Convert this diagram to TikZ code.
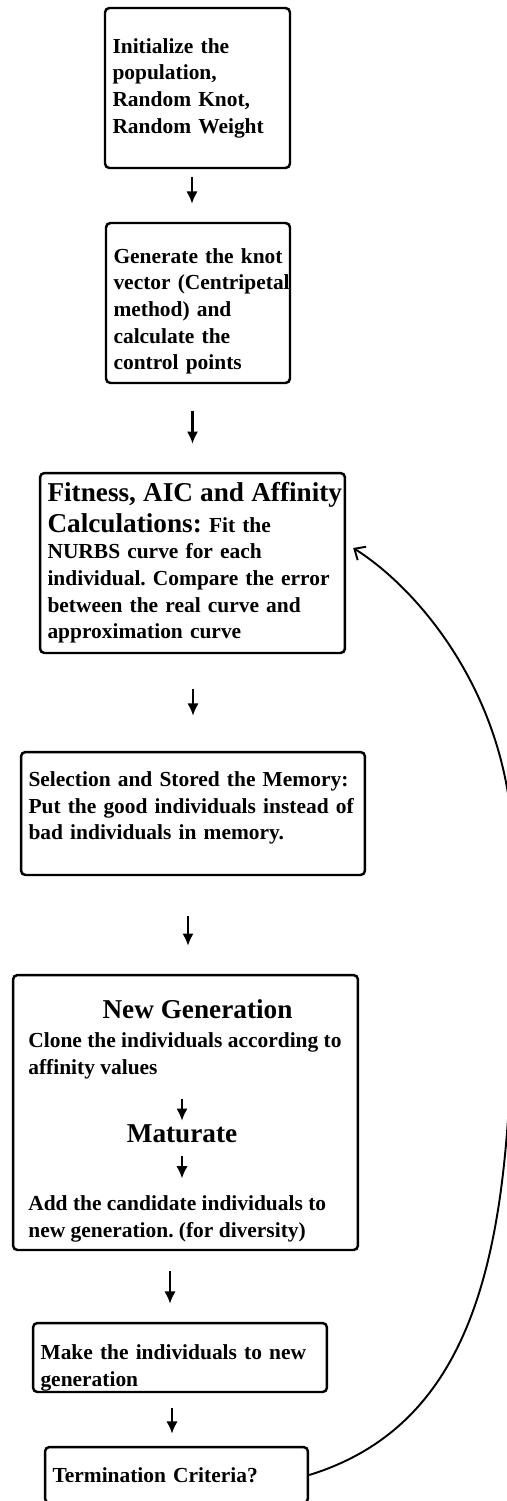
\documentclass[tikz,border=0pt]{standalone}
\usepackage{fontspec}
\setmainfont{Liberation Serif}
\usepackage{tikz}
\usetikzlibrary{arrows.meta}

\newcommand{\boxtext}{\fontsize{12.2}{15.2}\selectfont\bfseries\frenchspacing}
\newcommand{\boxhead}{\fontsize{15.5}{18}\selectfont\bfseries}

\begin{document}
\begin{tikzpicture}[x=0.02cm, y=-0.02cm,
    stagebox/.style={draw, line width=1.4pt, rounded corners=2.5pt, inner xsep=0.15cm, align=left, font=\boxtext},
    plaintext/.style={inner sep=0pt, align=left, font=\boxtext},
    flowarrow/.style={line width=1.6pt, -{Latex[length=7pt,width=6.5pt]}},
    backarrow/.style={line width=1.1pt, -{Straight Barb[length=5pt,width=9pt]}}]
    \useasboundingbox (0,0) rectangle (507,1501);

    % Step 1: Initialization
    \node[stagebox, minimum width=3.7cm, minimum height=3.2cm, text width=3.4cm] (init) at (197.5,88)
        {Initialize the\\population,\\Random Knot,\\Random Weight};

    % Step 2: Knot vector
    \node[stagebox, minimum width=3.68cm, minimum height=3.2cm, text width=3.38cm] (knot) at (198,303)
        {\rule{0pt}{18pt}\mbox{Generate the knot}\\\mbox{vector (Centripetal}\\method) and\\calculate the\\control points};

    % Step 3: Fitness
    \node[stagebox, minimum width=6.1cm, minimum height=3.6cm, text width=5.8cm] (fit) at (192.5,563)
        {\mbox{\boxhead Fitness, AIC and Affinity}\\[2pt]{\boxhead Calculations:} Fit the\\NURBS curve for each\\\mbox{individual. Compare the error}\\between the real curve and\\approximation curve};

    % Step 4: Selection
    \node[stagebox, minimum width=6.88cm, minimum height=2.46cm, text width=6.58cm] (sel) at (193,813.5)
        {\mbox{Selection and Stored the Memory:}\\\mbox{Put the good individuals instead of}\\bad individuals in memory.\rule[-9pt]{0pt}{0pt}};

    % Step 5: New generation
    \node[stagebox, minimum width=6.9cm, minimum height=5.5cm] (newgen) at (185.5,1112.5) {};
    \node[plaintext, anchor=base, font=\boxhead] (ngtitle) at (197.5,1018) {New Generation};
    \node[plaintext, anchor=west] (clone) at (28,1056) {Clone the individuals according to\\affinity values};
    \node[plaintext, anchor=base, font=\boxhead] (mature) at (182,1142) {Maturate};
    \node[plaintext, anchor=west] (cand) at (28,1219) {Add the candidate individuals to\\new generation. (for diversity)};
    \draw[flowarrow, shorten <=0.4cm, shorten >=0.06cm] (clone.south -| mature.north) -- (mature.north);
    \draw[flowarrow, shorten <=0.26cm, shorten >=0.34cm] (mature.south) -- (mature.south |- cand.north);

    % Step 6 and 7
    \node[stagebox, inner ysep=0pt, minimum width=5.88cm, minimum height=1.38cm, text width=5.58cm] (make) at (180,1357.5)
        {\rule{0pt}{20pt}Make the individuals to new\\generation};
    \node[stagebox, minimum width=5.26cm, minimum height=1.12cm, text width=4.96cm] (term) at (176.5,1475)
        {Termination Criteria?};

    % Arrows between the steps
    \foreach \src/\dst/\gapa/\gapb/\dx in {init/knot/0.16/0.36/-0.12, knot/fit/0.54/0.56/0, fit/sel/0.7/0.7/0,
        sel/newgen/0.8/0.56/0.05, newgen/make/0.4/0.36/-0.2, make/term/0.3/0.24/-0.09} {
        \draw[flowarrow, shorten <=\gapa cm, shorten >=\gapb cm]
            ([xshift=\dx cm]\src.south -| \dst.north) -- ([xshift=\dx cm]\dst.north);
    }

    % Loop back to the fitness step
    \coordinate (loopmid) at (513,855);
    \draw[backarrow] (term.east) .. controls (520,1410) and (513,1150) .. (loopmid)
        .. controls (513,700) and (420,590) .. ([shift={(0.14cm,0.3cm)}]fit.east);
\end{tikzpicture}
\end{document}
